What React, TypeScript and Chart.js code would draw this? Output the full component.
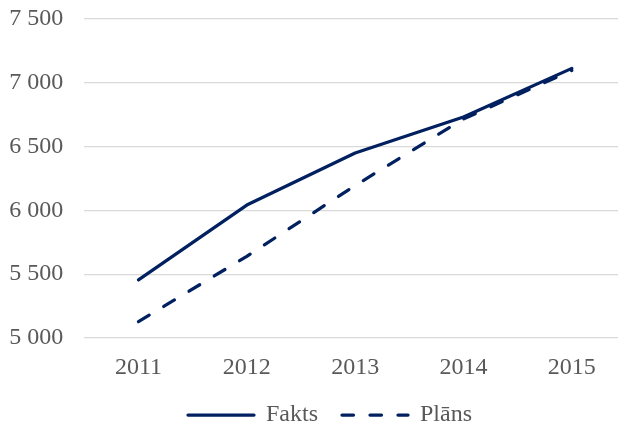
import React, { useEffect, useRef } from "react";
import { Chart, registerables } from "chart.js";

Chart.register(...registerables);

const years = ["2011", "2012", "2013", "2014", "2015"];
const fakts = [5455, 6042, 6450, 6732, 7113];
const plans = [5128, 5640, 6195, 6717, 7097];
const seriesNames = ["Fakts", "Plāns"];
const yMin = 5000;
const yMax = 7500;
const yStep = 500;

const NAVY = "#002060";
const TEXT = "#595959";
const GRID = "#d9d9d9";
const FONT = { family: "'Liberation Serif', 'Times New Roman', serif", size: 24 };
const LINE_DASH = [12.5, 17];
const LEGEND_DASH = [11.5, 16.5];

const fmt = (v: number) => String(v).replace(/\B(?=(\d{3})+(?!\d))/g, " ");

export default function App() {
  const ref = useRef<HTMLCanvasElement>(null);
  useEffect(() => {
    const chart = new Chart(ref.current!, {
      type: "line",
      data: {
        labels: years,
        datasets: [
          {
            label: seriesNames[0],
            data: fakts,
            borderColor: NAVY,
            backgroundColor: NAVY,
            borderWidth: 3.25,
            pointRadius: 0,
            tension: 0,
            fill: false,
            borderCapStyle: "round",
            borderJoinStyle: "round",
          },
          {
            label: seriesNames[1],
            data: plans,
            borderColor: NAVY,
            backgroundColor: NAVY,
            borderWidth: 3.25,
            borderDash: LINE_DASH,
            pointRadius: 0,
            tension: 0,
            fill: false,
            borderCapStyle: "round",
            borderJoinStyle: "round",
          },
        ],
      },
      options: {
        responsive: true,
        maintainAspectRatio: false,
        animation: false,
        layout: { padding: { top: 19, left: 0, right: 2, bottom: 0 } },
        plugins: {
          legend: {
            position: "bottom",
            labels: {
              usePointStyle: true,
              pointStyle: "line",
              pointStyleWidth: 66,
              padding: 24,
              color: TEXT,
              font: FONT,
              generateLabels: (c: any) => {
                const items = (Chart.defaults.plugins.legend.labels as any).generateLabels(c);
                items.forEach((it: any, i: number) => {
                  it.lineDash = i === 1 ? LEGEND_DASH : [];
                  it.lineCap = "round";
                  it.lineWidth = 3.25;
                  it.strokeStyle = NAVY;
                  it.fillStyle = NAVY;
                  it.pointStyle = "line";
                });
                return items;
              },
            },
          },
          tooltip: { enabled: false },
        },
        scales: {
          x: {
            offset: true,
            grid: { display: false, drawTicks: false },
            border: { display: false },
            ticks: { color: TEXT, font: FONT, padding: 15.5 },
            afterFit: (s: any) => {
              s.height = 41;
            },
          },
          y: {
            min: yMin,
            max: yMax,
            ticks: {
              stepSize: yStep,
              color: TEXT,
              font: FONT,
              padding: 0,
              callback: (v: any) => fmt(Number(v)),
            },
            grid: {
              color: GRID,
              lineWidth: 1.3,
              drawTicks: true,
              tickLength: 21,
              tickColor: "rgba(0,0,0,0)",
            },
            border: { display: false },
            afterFit: (s: any) => {
              s.width = 84.3;
            },
          },
        },
      },
      plugins: [
        {
          id: "legendShift",
          afterLayout: (c: any) => {
            const l = c.legend;
            if (l) {
              l.left += 17;
              l.right += 17;
            }
          },
        },
      ],
    } as any);
    return () => chart.destroy();
  }, []);
  return (
    <div
      style={{
        position: "fixed",
        left: 0,
        top: 0,
        width: 618,
        height: 430,
        overflow: "hidden",
        background: "#fff",
      }}
    >
      <div style={{ position: "relative", width: 628, height: 437 }}>
        <canvas ref={ref} />
      </div>
    </div>
  );
}
